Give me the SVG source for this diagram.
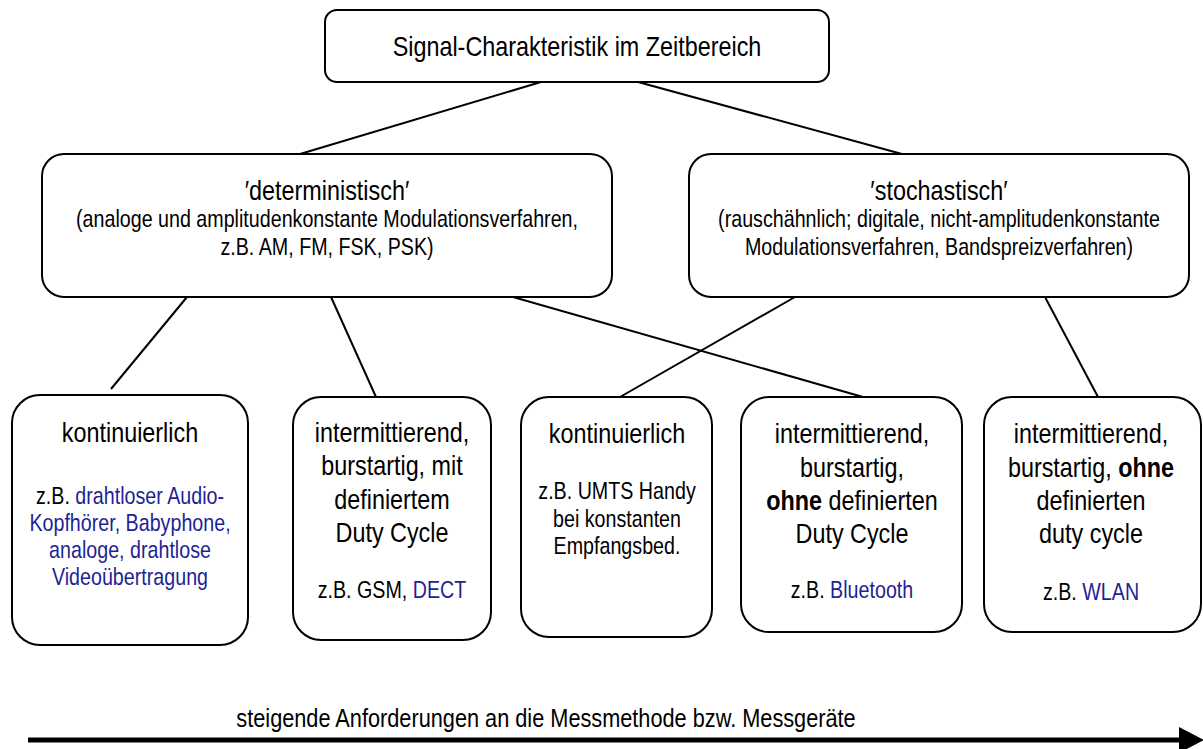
<svg xmlns="http://www.w3.org/2000/svg" width="1203" height="749" viewBox="0 0 1203 749">
<style>
text{font-family:"Liberation Sans","Arial",sans-serif;fill:#000;text-anchor:middle}
.h{font-size:28.5px}
.s{font-size:24px}
.bl{fill:#1f1f96}
.bo{font-weight:bold}
.box{fill:#fff;stroke:#000;stroke-width:2}
.con line{stroke:#000;stroke-width:2}
</style>
<g class="con" id="connectors">
<line x1="541" y1="82" x2="300" y2="154"/>
<line x1="638" y1="82" x2="902" y2="154"/>
<line x1="187" y1="297" x2="111" y2="389"/>
<line x1="331" y1="297" x2="376" y2="397"/>
<line x1="513" y1="297" x2="863" y2="397"/>
<line x1="795" y1="297" x2="620" y2="397"/>
<line x1="1045" y1="297" x2="1098" y2="397"/>
</g>
<g id="top">
<rect class="box" x="325" y="10" width="504" height="72" rx="12"/>
<g transform="matrix(0.82 0 0 1 577 0)">
<text class="h" x="0" y="56">Signal-Charakteristik im Zeitbereich</text>
</g>
</g>
<g id="det">
<rect class="box" x="42" y="154" width="570" height="143" rx="22"/>
<g transform="matrix(0.82 0 0 1 327 0)">
<text class="h" x="0" y="200">′deterministisch′</text>
<text class="s" x="0" y="227">(analoge und amplitudenkonstante Modulationsverfahren,</text>
<text class="s" x="0" y="255">z.B. AM, FM, FSK, PSK)</text>
</g>
</g>
<g id="sto">
<rect class="box" x="689" y="154" width="500" height="143" rx="22"/>
<g transform="matrix(0.82 0 0 1 939 0)">
<text class="h" x="0" y="200">′stochastisch′</text>
<text class="s" x="0" y="227">(rauschähnlich; digitale, nicht-amplitudenkonstante</text>
<text class="s" x="0" y="255">Modulationsverfahren, Bandspreizverfahren)</text>
</g>
</g>
<g id="b1">
<rect class="box" x="12" y="395" width="236" height="250" rx="28"/>
<g transform="matrix(0.82 0 0 1 130 0)">
<text class="h" x="0" y="442">kontinuierlich</text>
<text class="s" x="0" y="504">z.B. <tspan class="bl">drahtloser Audio-</tspan></text>
<text class="s bl" x="0" y="531">Kopfhörer, Babyphone,</text>
<text class="s bl" x="0" y="558">analoge, drahtlose</text>
<text class="s bl" x="0" y="585">Videoübertragung</text>
</g>
</g>
<g id="b2">
<rect class="box" x="293" y="397" width="198" height="243" rx="28"/>
<g transform="matrix(0.82 0 0 1 392 0)">
<text class="h" x="0" y="442">intermittierend,</text>
<text class="h" x="0" y="475">burstartig, mit</text>
<text class="h" x="0" y="509">definiertem</text>
<text class="h" x="0" y="542">Duty Cycle</text>
<text class="s" x="0" y="598">z.B. GSM, <tspan class="bl">DECT</tspan></text>
</g>
</g>
<g id="b3">
<rect class="box" x="521" y="397" width="191" height="240" rx="28"/>
<g transform="matrix(0.82 0 0 1 617 0)">
<text class="h" x="0" y="443">kontinuierlich</text>
<text class="s" x="0" y="499">z.B. UMTS Handy</text>
<text class="s" x="0" y="527">bei konstanten</text>
<text class="s" x="0" y="554">Empfangsbed.</text>
</g>
</g>
<g id="b4">
<rect class="box" x="741" y="397" width="221" height="235" rx="28"/>
<g transform="matrix(0.82 0 0 1 852 0)">
<text class="h" x="0" y="443">intermittierend,</text>
<text class="h" x="0" y="477">burstartig,</text>
<text class="h" x="0" y="510"><tspan class="bo">ohne</tspan> definierten</text>
<text class="h" x="0" y="543">Duty Cycle</text>
<text class="s" x="0" y="598">z.B. <tspan class="bl">Bluetooth</tspan></text>
</g>
</g>
<g id="b5">
<rect class="box" x="984" y="397" width="217" height="235" rx="28"/>
<g transform="matrix(0.82 0 0 1 1091 0)">
<text class="h" x="0" y="443">intermittierend,</text>
<text class="h" x="0" y="477">burstartig, <tspan class="bo">ohne</tspan></text>
<text class="h" x="0" y="510">definierten</text>
<text class="h" x="0" y="543">duty cycle</text>
<text class="s" x="0" y="600">z.B. <tspan class="bl">WLAN</tspan></text>
</g>
</g>
<g id="axis">
<g transform="matrix(0.82 0 0 1 546 0)">
<text x="0" y="727" style="font-size:26.5px">steigende Anforderungen an die Messmethode bzw. Messgeräte</text>
</g>
<line x1="28" y1="740" x2="1181" y2="740" stroke="#000" stroke-width="5"/>
<polygon points="1179,727 1204,740 1179,753" fill="#000"/>
</g>
</svg>
